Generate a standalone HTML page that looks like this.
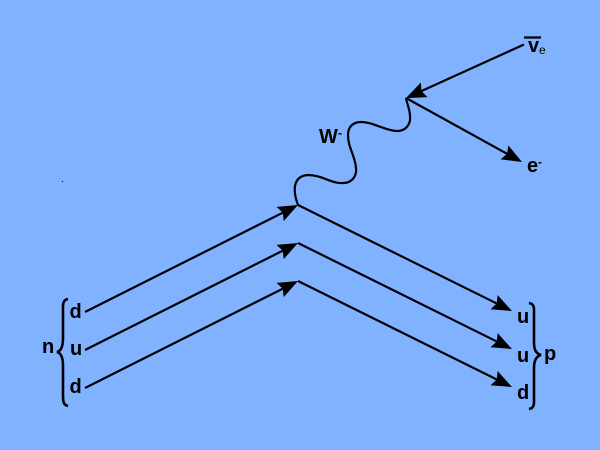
<!DOCTYPE html>
<html>
<head>
<meta charset="utf-8">
<style>
html,body{margin:0;padding:0;background:#80b2ff;}
svg{display:block;}
text{font-family:"Liberation Sans",sans-serif;font-weight:bold;fill:#000;}
</style>
</head>
<body>
<svg width="600" height="450" viewBox="0 0 600 450" xmlns="http://www.w3.org/2000/svg">
<defs>
<marker id="a" markerUnits="userSpaceOnUse" markerWidth="26" markerHeight="20" refX="14" refY="8" orient="auto" overflow="visible">
<path d="M-1 0 L2 8 L-1 16 L19 8 Z" fill="#000"/>
</marker>
</defs>
<rect width="600" height="450" fill="#80b2ff"/>
<g fill="none" stroke="#000" stroke-width="2.2">
<line x1="85" y1="312" x2="293.5" y2="207.3" marker-end="url(#a)"/>
<line x1="85" y1="350" x2="293.5" y2="245.3" marker-end="url(#a)"/>
<line x1="85" y1="388" x2="293.5" y2="283.3" marker-end="url(#a)"/>
<line x1="298" y1="205" x2="507.5" y2="308.8" marker-end="url(#a)"/>
<line x1="298" y1="243" x2="507.5" y2="346.8" marker-end="url(#a)"/>
<line x1="298" y1="281" x2="507.5" y2="384.8" marker-end="url(#a)"/>
<line x1="524" y1="44.5" x2="410.5" y2="96" marker-end="url(#a)"/>
<line x1="406" y1="98" x2="517.6" y2="159.6" marker-end="url(#a)"/>
<path d="M298 205 C293 192 292 176 308 175 C322 175 332 184 343 183 C352 183 357 176 356 168 C355 155 348 148 348 135 C348 126 354 122 361 122 C373 122 386 131 397 131 C406 131 411 124 410 116 C410 110 407 104 406 98"/>
<path stroke-width="2.6" d="M68 299 C62 300 63 306 63 312 L63 338 C63 346 61 351 57 352 C61 353 63 358 63 366 L63 394 C63 401 63 405 68 406"/>
<path stroke-width="2.6" d="M529 303 C535 304 534 309 534 315 L534 343 C534 351 537 354 541 355 C537 356 534 360 534 368 L534 396 C534 403 535 408 529 409"/>
<line x1="524" y1="37.5" x2="541" y2="37.5"/>
</g>
<rect x="62" y="181" width="1" height="1" fill="#000"/>
<g font-size="20">
<text x="69.5" y="318">d</text>
<text x="70" y="355">u</text>
<text x="69.5" y="393">d</text>
<text x="42" y="353">n</text>
<text x="517" y="323">u</text>
<text x="517" y="362">u</text>
<text x="517" y="399">d</text>
<text x="544" y="360">p</text>
<text x="319" y="143">W</text>
<text x="527" y="172">e</text>
<text x="528" y="52">v</text>
</g>
<text x="338" y="137" font-size="12">-</text>
<text x="538" y="166" font-size="12">-</text>
<text x="539" y="54" font-size="12" style="font-weight:normal">e</text>
</svg>
</body>
</html>
